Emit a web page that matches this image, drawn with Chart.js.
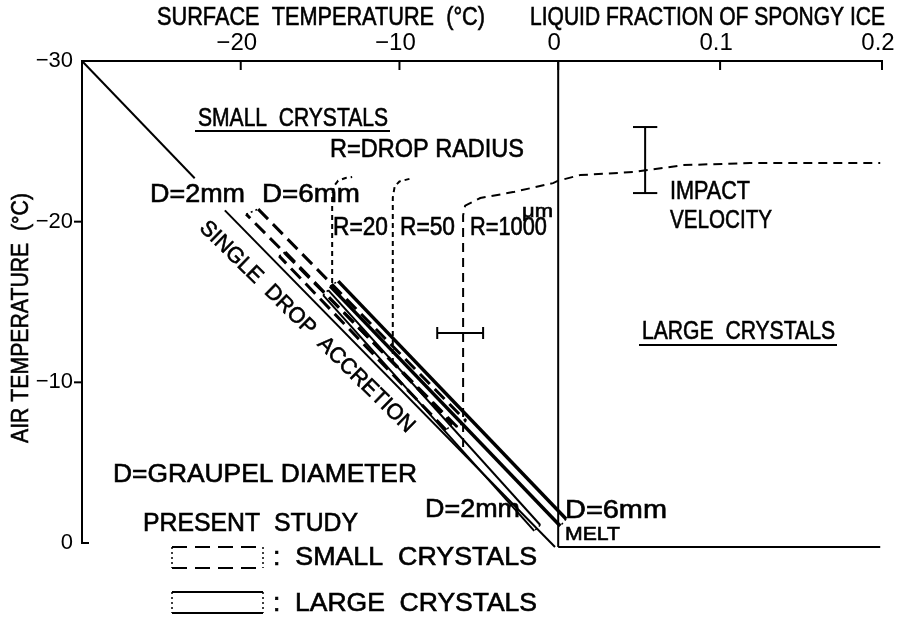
<!DOCTYPE html>
<html>
<head>
<meta charset="utf-8">
<script src="https://cdn.jsdelivr.net/npm/chart.js@4.4.0/dist/chart.umd.min.js"></script>
<style>
  html, body { margin: 0; padding: 0; background: #fff; }
</style>
</head>
<body>
<canvas id="chart" width="901" height="617"></canvas>
<script>
const FONT = "'Liberation Sans', Arial, sans-serif";
// 0.1 of liquid fraction takes the same length as 10.2 degC on the top axis
const FRAC_SCALE = 102;

// axis ticks
const surfaceTicks = [-20, -10, 0];
const fractionTicks = [0.1, 0.2];
const airTicks = [-30, -20, -10, 0];

// single drop accretion (surface temp, air temp), broken under the D=2mm label
const singleT = [-30, -22.9];
const singleA = [-30, -22.7];
const singleT2 = [-21.0, -0.2];
const singleA2 = [-20.7, 0.25];

// present study, closed outlines: upper edge, cap, lower edge, cap
const small6T = [-18.9, -5.8, -6.36, -19.66, -18.9];
const small6A = [-20.78, -7.59, -7.22, -20.47, -20.78];
const small2T = [-17.2, -6.68, -7.06, -17.58, -17.2];
const small2A = [-18.11, -7.41, -7.03, -17.86, -18.11];
const large6T = [-13.86, 0.5, 0.13, -14.37, -13.86];
const large6A = [-16.3, -1.49, -1.06, -15.99, -16.3];
const large2T = [-14.49, -1.13, -1.51, -14.81, -14.49];
const large2A = [-15.74, -1.12, -0.75, -15.43, -15.74];

// drop radius curves
const r20T = [-14.24, -14.24, -14.1, -13.86, -13.4, -12.98];
const r20A = [-16.18, -21.7, -22.25, -22.55, -22.72, -22.78];
const r50T = [-10.42, -10.42, -10.3, -10.0, -9.2];
const r50A = [-11.2, -21.5, -22.2, -22.5, -22.71];
const r1000T = [-5.99, -5.99, -5.86, -4.91, -2.84, -0.32];
const r1000A = [-5.97, -20.4, -21.0, -21.47, -21.84, -22.4];
// continuation over the liquid fraction side
const wetFrac = [0, 0.0136, 0.0463, 0.0772, 0.1186, 0.1989];
const wetAir = [-22.55, -22.9, -23.09, -23.52, -23.65, -23.65];

// 0 degC surface line and melting line
const zeroLineA = [-30, 0.25];
const meltFrac = [0, 0.1989];
const meltAir = [0.25, 0.25];

// error bars
const impactFrac = 0.0537;
const impactAir = [-25.89, -21.78];
const dropBarT = [-7.62, -4.73];
const dropBarA = -13.07;

const fx = f => f * FRAC_SCALE;
const xTickValues = surfaceTicks.concat(fractionTicks.map(fx));
const xTickLabels = ['\u221220', '\u221210', '0', '0.1', '0.2'];

function line(xs, ys, opt) {
  return Object.assign({
    data: xs.map((x, i) => ({ x: x, y: ys[i] })),
    showLine: true, pointRadius: 0, pointHoverRadius: 0,
    borderColor: '#000', backgroundColor: '#000', borderWidth: 1.5,
    fill: false, tension: 0, clip: false
  }, opt || {});
}

function band(xs, ys, edgeDash, width) {
  return line(xs, ys, {
    borderWidth: width,
    segment: {
      borderDash: c => (c.p0DataIndex % 2 === 0 ? edgeDash : [2, 3]),
      borderWidth: c => (c.p0DataIndex % 2 === 0 ? width : 1.5)
    }
  });
}

const capF = 0.0075, capA = 0.37;
const datasets = [
  line(singleT, singleA, { borderWidth: 2 }),
  line(singleT2, singleA2, { borderWidth: 2 }),
  band(small2T, small2A, [14, 7], 3),
  band(small6T, small6A, [14, 7], 3),
  band(large2T, large2A, [], 2),
  band(large6T, large6A, [], 3.5),
  line(r20T, r20A, { borderDash: [5, 4], borderWidth: 2 }),
  line(r50T, r50A, { borderDash: [5, 4], borderWidth: 2 }),
  line(r1000T.concat(wetFrac.map(fx)), r1000A.concat(wetAir), { borderDash: [9, 6], borderWidth: 2 }),
  line([0, 0], zeroLineA, { borderWidth: 2 }),
  line(meltFrac.map(fx), meltAir, { borderWidth: 2 }),
  line([impactFrac, impactFrac].map(fx), impactAir, { borderWidth: 2 }),
  line([impactFrac - capF, impactFrac + capF].map(fx), [impactAir[0], impactAir[0]], { borderWidth: 2 }),
  line([impactFrac - capF, impactFrac + capF].map(fx), [impactAir[1], impactAir[1]], { borderWidth: 2 }),
  line(dropBarT, [dropBarA, dropBarA], { borderWidth: 2 }),
  line([dropBarT[0], dropBarT[0]], [dropBarA - capA, dropBarA + capA], { borderWidth: 2 }),
  line([dropBarT[1], dropBarT[1]], [dropBarA - capA, dropBarA + capA], { borderWidth: 2 })
];

// text: s, x, y (px), w target width, size, align, rot
const notes = [
  { s: 'SURFACE  TEMPERATURE  (\u00b0C)', x: 157, y: 18, w: 328 },
  { s: 'LIQUID FRACTION OF SPONGY ICE', x: 530, y: 18, w: 355 },
  { s: 'AIR TEMPERATURE  (\u00b0C)', x: 21, y: 318, w: 250, size: 24, align: 'center', rot: -90 },
  { s: 'SMALL  CRYSTALS', x: 198, y: 119, w: 190 },
  { s: 'R=DROP RADIUS', x: 330, y: 150, w: 194 },
  { s: 'D=2mm', x: 150, y: 195, w: 95 },
  { s: 'D=6mm', x: 262, y: 195, w: 98 },
  { s: 'SINGLE  DROP  ACCRETION', x: 307, y: 327, w: 292, size: 22, align: 'center', rot: 44.5 },
  { s: 'R=20', x: 333, y: 228, w: 55 },
  { s: 'R=50', x: 400, y: 228, w: 55 },
  { s: 'R=1000', x: 470, y: 228, w: 77 },
  { s: '\u03bcm', x: 522, y: 212, w: 31, size: 19 },
  { s: 'IMPACT', x: 670, y: 192, w: 80 },
  { s: 'VELOCITY', x: 670, y: 221, w: 102 },
  { s: 'LARGE  CRYSTALS', x: 642, y: 332, w: 193 },
  { s: 'D=GRAUPEL DIAMETER', x: 113, y: 475, w: 304 },
  { s: 'PRESENT  STUDY', x: 143, y: 524, w: 215 },
  { s: 'D=2mm', x: 425, y: 510, w: 95 },
  { s: 'D=6mm', x: 565, y: 511, w: 102 },
  { s: 'MELT', x: 565, y: 535, w: 55, size: 19 },
  { s: ':  SMALL  CRYSTALS', x: 273, y: 558, w: 264 },
  { s: ':  LARGE  CRYSTALS', x: 273, y: 604, w: 264 }
];

function drawText(ctx, t) {
  ctx.save();
  ctx.font = (t.size || 25) + 'px ' + FONT;
  ctx.fillStyle = '#000';
  ctx.strokeStyle = '#000';
  ctx.lineWidth = 0.6;
  ctx.textBaseline = 'middle';
  ctx.textAlign = 'left';
  const natural = ctx.measureText(t.s).width;
  const sx = t.w ? t.w / natural : 1;
  ctx.translate(t.x, t.y);
  if (t.rot) ctx.rotate(t.rot * Math.PI / 180);
  ctx.scale(sx, 1);
  const x0 = t.align === 'center' ? -natural / 2 : 0;
  ctx.fillText(t.s, x0, 0);
  ctx.strokeText(t.s, x0, 0);
  ctx.restore();
}

function seg(ctx, x1, y1, x2, y2, w, dash) {
  ctx.save();
  ctx.strokeStyle = '#000';
  ctx.lineWidth = w;
  ctx.setLineDash(dash || []);
  ctx.beginPath();
  ctx.moveTo(x1, y1);
  ctx.lineTo(x2, y2);
  ctx.stroke();
  ctx.restore();
}

const annotations = {
  id: 'annotations',
  afterDraw(chart) {
    const ctx = chart.ctx;
    const xs = chart.scales.x, ys = chart.scales.y;
    const top = chart.chartArea.top, left = chart.chartArea.left;
    // inward ticks on the top axis
    xTickValues.forEach(v => {
      const px = xs.getPixelForValue(v);
      seg(ctx, px, top, px, top + 9, 2);
    });
    // ticks on the left axis
    airTicks.forEach(v => {
      const py = ys.getPixelForValue(v);
      if (v === 0) seg(ctx, left, py, left + 7, py, 2);
      else if (v !== -30) seg(ctx, left - 8, py, left, py, 2);
    });
    notes.forEach(t => drawText(ctx, t));
    // underlines
    seg(ctx, 195, 131, 390, 131, 2);
    seg(ctx, 639, 345, 837, 345, 2);
    // legend swatches
    const sw = [[172, 263, 547, 568, [15, 8]], [172, 263, 592, 613, []]];
    sw.forEach(r => {
      seg(ctx, r[0], r[2], r[1], r[2], 2, r[4]);
      seg(ctx, r[0], r[3], r[1], r[3], 2, r[4]);
      seg(ctx, r[0], r[2], r[0], r[3], 1.5, [2, 3]);
      seg(ctx, r[1], r[2], r[1], r[3], 1.5, [2, 3]);
    });
  }
};

new Chart(document.getElementById('chart'), {
  type: 'scatter',
  data: { datasets: datasets },
  options: {
    responsive: false,
    animation: false,
    events: [],
    layout: { padding: { left: 0, right: 19, top: 0, bottom: 74 } },
    plugins: { legend: { display: false }, tooltip: { enabled: false } },
    scales: {
      x: {
        type: 'linear', position: 'top', min: -30, max: fx(0.2),
        grid: { display: false, drawTicks: false },
        border: { display: true, color: '#000', width: 2 },
        afterBuildTicks: s => { s.ticks = xTickValues.map(v => ({ value: v })); },
        ticks: {
          autoSkip: false, maxRotation: 0, padding: 3, labelOffset: -4,
          color: '#000', font: { family: FONT, size: 24 },
          callback: (v, i) => xTickLabels[i]
        },
        afterFit: s => { s.height = 61; s.paddingLeft = 0; s.paddingRight = 0; }
      },
      y: {
        type: 'linear', position: 'left', min: -30, max: 0, reverse: true,
        grid: { display: false, drawTicks: false },
        border: { display: true, color: '#000', width: 2 },
        afterBuildTicks: s => { s.ticks = airTicks.map(v => ({ value: v })); },
        ticks: {
          autoSkip: false, padding: 9, color: '#000', font: { family: FONT, size: 22 },
          callback: v => (v < 0 ? '\u2212' + Math.abs(v) : String(v))
        },
        afterFit: s => { s.width = 82; s.paddingTop = 0; s.paddingBottom = 0; }
      }
    }
  },
  plugins: [annotations]
});
</script>
</body>
</html>
